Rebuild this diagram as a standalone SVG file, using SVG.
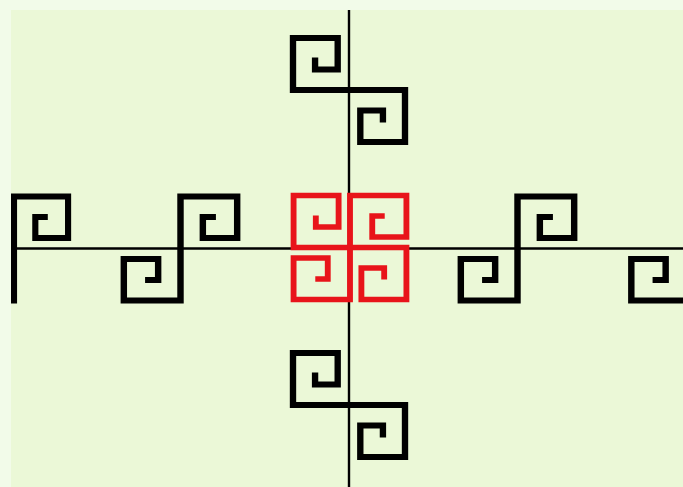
<svg xmlns="http://www.w3.org/2000/svg" xmlns:xlink="http://www.w3.org/1999/xlink" width="683" height="487" viewBox="0 0 683 487">
  <style>
    .blk { fill: none; stroke: #000; stroke-width: 5.9; stroke-linejoin: miter; stroke-linecap: butt; }
    .red { fill: none; stroke: #e8141a; stroke-width: 5.4; stroke-linejoin: miter; stroke-linecap: butt; }
    .axis { stroke: #000; stroke-width: 2.4; }
  </style>
  <defs>
    <path id="sMeander" d="M-31.5,-32.5 V-20.5 H-10.5 V-52 H-52 V0 H52 V52 H10.5 V20.5 H31.5 V32.5"/>
    <path id="spiral" d="M0,0 H-52 V-52 H-10.5 V-20.5 H-31.5 V-32"/>
    <clipPath id="panelClip"><rect x="11" y="10" width="672" height="477"/></clipPath>
  </defs>
  <rect x="0" y="0" width="683" height="487" fill="#f2fbe9"/>
  <rect x="11" y="10" width="672" height="477" fill="#ebf8d7"/>
  <g clip-path="url(#panelClip)">
    <g id="connectors">
      <line class="axis" x1="349" y1="10" x2="349" y2="487"/>
      <line class="axis" x1="11" y1="248.5" x2="683" y2="248.5"/>
    </g>
    <g id="vertical-top">
      <use xlink:href="#sMeander" class="blk" transform="translate(349,90) scale(1.077,1)"/>
    </g>
    <g id="vertical-bottom">
      <use xlink:href="#sMeander" class="blk" transform="translate(349,405) scale(1.077,1)"/>
    </g>
    <g id="horizontal-1">
      <use xlink:href="#sMeander" class="blk" transform="translate(14,248.5) scale(1.04,1) rotate(90)"/>
    </g>
    <g id="horizontal-2">
      <use xlink:href="#sMeander" class="blk" transform="translate(180.5,248.5) scale(1.09,1) rotate(90)"/>
    </g>
    <g id="horizontal-3">
      <use xlink:href="#sMeander" class="blk" transform="translate(517.5,248.5) scale(1.09,1) rotate(90)"/>
    </g>
    <g id="horizontal-4">
      <use xlink:href="#sMeander" class="blk" transform="translate(688,248.5) scale(1.09,1) rotate(90)"/>
    </g>
    <g id="center-red">
      <use xlink:href="#spiral" class="red" transform="translate(350,247.5) scale(1.085,1) rotate(0)"/>
      <use xlink:href="#spiral" class="red" transform="translate(350,247.5) scale(1.085,1) rotate(90)"/>
      <use xlink:href="#spiral" class="red" transform="translate(350,247.5) scale(1.085,1) rotate(180)"/>
      <use xlink:href="#spiral" class="red" transform="translate(350,247.5) scale(1.085,1) rotate(270)"/>
    </g>
  </g>
</svg>
